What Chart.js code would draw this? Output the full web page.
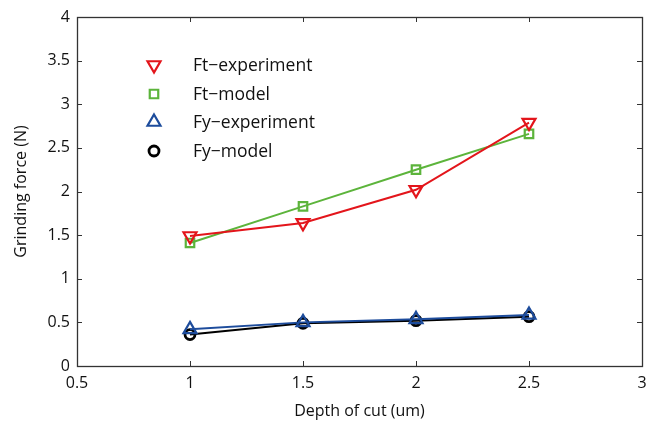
<!DOCTYPE html>
<html><head><meta charset="utf-8">
<script src="https://cdn.jsdelivr.net/npm/chart.js@4/dist/chart.umd.min.js"></script>
<style>html,body{margin:0;padding:0;background:#fff}#wrap{width:657px;height:422px}</style>
</head><body><div id="wrap"><canvas id="c" width="657" height="422"></canvas></div>
<script>
const depth = [1, 1.5, 2, 2.5];
const ftExperiment = [1.49, 1.64, 2.02, 2.79];
const ftModel = [1.41, 1.83, 2.25, 2.66];
const fyExperiment = [0.42, 0.50, 0.535, 0.585];
const fyModel = [0.36, 0.49, 0.52, 0.565];
const xTicks = [0.5, 1, 1.5, 2, 2.5, 3];
const yTicks = [0, 0.5, 1, 1.5, 2, 2.5, 3, 3.5, 4];
const labels = ['Ft\u2212experiment', 'Ft\u2212model', 'Fy\u2212experiment', 'Fy\u2212model'];

const FONT = "'Open Sans', 'Liberation Sans', sans-serif";
const pts = arr => depth.map((x, i) => ({x, y: arr[i]}));

const inwardTicks = {
  id: 'inwardTicks',
  afterDraw(chart) {
    const {ctx, chartArea: a, scales: {x, y}} = chart;
    ctx.save();
    ctx.strokeStyle = '#333';
    ctx.lineWidth = 1;
    ctx.beginPath();
    xTicks.forEach(v => {
      const px = Math.round(x.getPixelForValue(v)) + 0.5;
      ctx.moveTo(px, a.bottom); ctx.lineTo(px, a.bottom - 5);
      ctx.moveTo(px, a.top); ctx.lineTo(px, a.top + 5);
    });
    yTicks.forEach(v => {
      const py = Math.round(y.getPixelForValue(v)) + 0.5;
      ctx.moveTo(a.left, py); ctx.lineTo(a.left + 5, py);
      ctx.moveTo(a.right, py); ctx.lineTo(a.right - 5, py);
    });
    ctx.stroke();
    ctx.lineWidth = 1.3;
    ctx.strokeRect(Math.round(a.left) + 0.5, Math.round(a.top) + 0.5, Math.round(a.right - a.left), Math.round(a.bottom - a.top));
    // legend
    const ds = chart.data.datasets;
    const rows = [65, 94, 122, 151];
    ctx.font = "17.5px " + FONT;
    ctx.textBaseline = 'middle';
    ds.forEach((d, i) => {
      ctx.strokeStyle = d.borderColor;
      ctx.fillStyle = 'rgba(0,0,0,0)';
      ctx.lineWidth = d.pointBorderWidth;
      Chart.helpers.drawPoint(ctx, {
        pointStyle: d.pointStyle, radius: d.pointRadius, rotation: d.pointRotation || 0,
        borderWidth: d.pointBorderWidth
      }, 154, rows[i]);
      ctx.fillStyle = '#111';
      ctx.fillText(d.label, 193, rows[i] + 1);
    });
    ctx.restore();
  }
};

const mk = (label, data, color, style, radius, bw, rot) => ({
  label, data, borderColor: color, backgroundColor: 'rgba(0,0,0,0)',
  borderWidth: 2, pointStyle: style, pointRadius: radius, pointHoverRadius: radius,
  pointBorderWidth: bw, pointBorderColor: color, pointBackgroundColor: 'rgba(0,0,0,0)',
  pointRotation: rot || 0, tension: 0, fill: false
});

const chart = new Chart(document.getElementById('c'), {
  type: 'line',
  data: {
    datasets: [
      mk(labels[0], pts(ftExperiment), '#e3151b', 'triangle', 7.5, 2.2, 180),
      mk(labels[1], pts(ftModel), '#5cb43b', 'rect', 6, 2.2),
      mk(labels[2], pts(fyExperiment), '#1d4c9c', 'triangle', 7.5, 2.2),
      mk(labels[3], pts(fyModel), '#000000', 'circle', 5, 2.8)
    ]
  },
  options: {
    responsive: false, animation: false,
    layout: {padding: {top: 17, right: 15, left: 0, bottom: 0}},
    plugins: {legend: {display: false}, tooltip: {enabled: false}},
    scales: {
      x: {
        type: 'linear', min: 0.5, max: 3,
        afterBuildTicks: s => { s.ticks = xTicks.map(v => ({value: v})); },
        afterFit: s => { s.height = 56; },
        grid: {display: false, drawTicks: false},
        border: {display: false},
        ticks: {padding: 8, color: '#111', font: {size: 16, family: FONT}, callback: v => String(v)},
        title: {display: true, text: 'Depth of cut (um)', color: '#111', font: {size: 16, family: FONT}, padding: {top: 2, bottom: 1}}
      },
      y: {
        type: 'linear', min: 0, max: 4,
        afterBuildTicks: s => { s.ticks = yTicks.map(v => ({value: v})); },
        afterFit: s => { s.width = 77; },
        grid: {display: false, drawTicks: false},
        border: {display: false},
        ticks: {padding: 7, color: '#111', font: {size: 16, family: FONT}, callback: v => String(v)},
        title: {display: true, text: 'Grinding force (N)', color: '#111', font: {size: 16, family: FONT}, padding: {top: 12, bottom: 0}}
      }
    }
  },
  plugins: [inwardTicks]
});
</script></body></html>
